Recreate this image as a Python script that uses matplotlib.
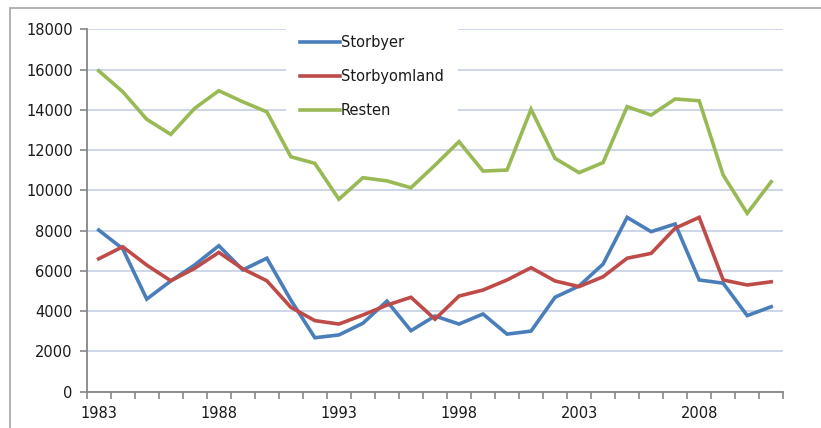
import matplotlib

matplotlib.use("Agg")
import matplotlib.pyplot as plt
import numpy as np
from matplotlib.patches import Rectangle

years = list(range(1983, 2012))

storbyer = [8030, 7100, 4600, 5500, 6300, 7250, 6050, 6630, 4550, 2680,
            2820, 3400, 4500, 3030, 3760, 3360, 3860, 2860, 3010, 4690,
            5250, 6340, 8660, 7950, 8330, 5550, 5390, 3780, 4220]
storbyomland = [6600, 7200, 6290, 5510, 6130, 6920, 6100, 5510, 4190, 3530,
                3360, 3810, 4300, 4690, 3600, 4750, 5050, 5550, 6160, 5500,
                5220, 5710, 6630, 6870, 8120, 8660, 5550, 5300, 5460]
resten = [15940, 14900, 13530, 12780, 14080, 14950, 14400, 13900, 11670, 11340,
          9560, 10630, 10470, 10130, 11250, 12420, 10960, 11010, 14030, 11590,
          10880, 11380, 14160, 13740, 14540, 14450, 10760, 8860, 10430]

series = [("Storbyer", storbyer, "#4a7ebb"),
          ("Storbyomland", storbyomland, "#be4b48"),
          ("Resten", resten, "#98b954")]

y_ticks = list(range(0, 18001, 2000))
x_labels = [1983, 1988, 1993, 1998, 2003, 2008]

plt.rcParams["font.family"] = ["DejaVu Sans"]
fig = plt.figure(figsize=(8.21, 4.28), dpi=100, facecolor="white")
ax = fig.add_axes([0.1056, 0.0848, 0.8484, 0.8467])

# outer chart-area border (only left/top edge visible in the crop)
fig.patches.append(Rectangle((10 / 821, -0.2), 2.0, 1.2 - 8 / 428, transform=fig.transFigure,
                             fill=False, edgecolor="#a6a6a6", linewidth=1.2))

for name, vals, color in series:
    ax.plot(years, vals, color=color, linewidth=2.6, label=name, solid_joinstyle="miter")

ax.set_xlim(years[0] - 0.5, years[-1] + 0.5)
ax.set_ylim(0, 18000)
ax.set_yticks(y_ticks, [str(v) for v in y_ticks])
ax.set_xticks(x_labels, [str(v) for v in x_labels])
ax.set_xticks(np.arange(years[0] - 0.5, years[-1] + 0.6, 1.0), minor=True)
ax.tick_params(axis="x", which="major", length=0, pad=10, labelsize=10.5, labelcolor="#1a1a1a")
ax.tick_params(axis="x", which="minor", length=5, width=1.2, color="#868686", direction="out")
ax.tick_params(axis="y", length=5, width=1.2, color="#868686", pad=5, labelsize=10.5,
               labelcolor="#1a1a1a")

ax.grid(axis="y", color="#c9d3e8", linewidth=1.3)
ax.set_axisbelow(True)
for side in ("top", "right"):
    ax.spines[side].set_visible(False)
for side in ("left", "bottom"):
    ax.spines[side].set_color("#868686")
    ax.spines[side].set_linewidth(1.3)

leg = ax.legend(loc="upper left", bbox_to_anchor=(0.286, 1.025), frameon=True,
                fancybox=False, edgecolor="none", facecolor="white", framealpha=1,
                fontsize=10.5, handlelength=2.7, handletextpad=0.05, labelspacing=1.3,
                borderpad=1.0, borderaxespad=0)
for t in leg.get_texts():
    t.set_color("#1a1a1a")

fig.savefig("out.png", dpi=100)
